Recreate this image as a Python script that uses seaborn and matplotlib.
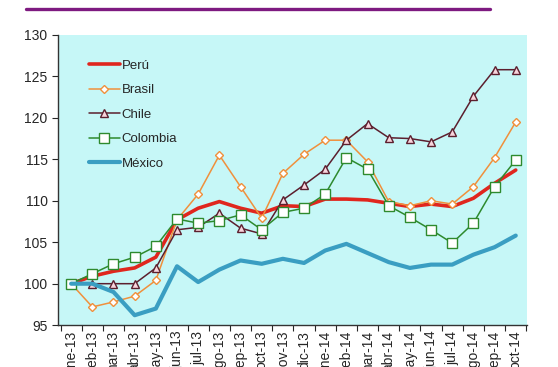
"""indices de tipo de cambio real: Peru vs vecinos"""

import seaborn as sns
import matplotlib.pyplot as plt
import matplotlib.lines as mlines
import numpy as np

months = ["ene-13", "feb-13", "mar-13", "abr-13", "may-13", "jun-13", "jul-13",
          "ago-13", "sep-13", "oct-13", "nov-13", "dic-13", "ene-14", "feb-14",
          "mar-14", "abr-14", "may-14", "jun-14", "jul-14", "ago-14", "sep-14",
          "oct-14"]

peru = [100.0, 100.9, 101.5, 101.9, 103.2, 107.7, 109.1, 109.9, 109.1, 108.5, 109.4,
        109.3, 110.2, 110.2, 110.1, 109.7, 109.3, 109.6, 109.3, 110.3, 112.1, 113.7]
brasil = [100.0, 97.2, 97.8, 98.5, 100.4, 107.7, 110.8, 115.5, 111.7, 107.9, 113.3,
          115.6, 117.3, 117.3, 114.7, 109.9, 109.4, 110.0, 109.6, 111.7, 115.2, 119.5]
chile = [100.0, 100.0, 100.0, 100.0, 101.9, 106.5, 106.8, 108.5, 106.7, 106.0, 110.1,
         111.9, 113.8, 117.3, 119.3, 117.6, 117.5, 117.1, 118.3, 122.6, 125.8, 125.8]
colombia = [100.0, 101.2, 102.4, 103.2, 104.5, 107.8, 107.3, 107.6, 108.3, 106.5, 108.6,
            109.1, 110.8, 115.2, 113.8, 109.4, 108.0, 106.5, 104.9, 107.3, 111.7, 114.9]
mexico = [100.0, 100.0, 99.0, 96.2, 97.0, 102.1, 100.2, 101.7, 102.8, 102.4, 103.0,
          102.5, 104.0, 104.8, 103.7, 102.6, 101.9, 102.3, 102.3, 103.5, 104.4, 105.8]

sns.set_style("white")
plt.rcParams["font.family"] = ["Liberation Sans", "DejaVu Sans"]

fig = plt.figure(figsize=(5.58, 3.67), dpi=100)
ax = fig.add_axes([0.104, 0.114, 0.84, 0.791])
ax.set_facecolor("#C6F7F7")

x = np.arange(len(months))

series = [
    ("Perú", peru, dict(color="#E0261E", linewidth=2.6)),
    ("Brasil", brasil, dict(color="#F0903C", linewidth=1.1, marker="D", markersize=4.5,
                            markerfacecolor="white", markeredgecolor="#F0903C",
                            markeredgewidth=1.0)),
    ("Chile", chile, dict(color="#5C1F2E", linewidth=1.1, marker="^", markersize=6.0,
                          markerfacecolor="#F8D4DC", markeredgecolor="#5C1F2E",
                          markeredgewidth=1.0)),
    ("Colombia", colombia, dict(color="#2E8A2E", linewidth=1.1, marker="s", markersize=6.5,
                                markerfacecolor="white", markeredgecolor="#2E8A2E",
                                markeredgewidth=1.0)),
    ("México", mexico, dict(color="#3A9EC2", linewidth=3.0)),
]

for name, vals, style in series:
    sns.lineplot(x=x, y=vals, ax=ax, label=name, **style)

ax.set_xlim(-0.62, 21.52)
ax.set_ylim(95, 130)
ax.set_yticks(np.arange(95, 131, 5))
ax.set_xticks(x)
ax.set_xticklabels(months, rotation=90, fontsize=10)
ax.set_xticks(np.arange(-0.5, 21.6, 1), minor=True)
ax.tick_params(axis="y", labelsize=10, direction="out", length=4, left=True, width=0.8)
ax.tick_params(axis="x", which="major", length=0, pad=4)
ax.tick_params(axis="x", which="minor", direction="out", length=4, bottom=True, width=0.8)

for side in ["top", "right"]:
    ax.spines[side].set_visible(False)
for side in ["left", "bottom"]:
    ax.spines[side].set_color("#333333")
    ax.spines[side].set_linewidth(1.0)

leg = ax.legend(loc="upper left", bbox_to_anchor=(0.04, 0.955), frameon=False,
                fontsize=9.5, handlelength=2.4, handletextpad=0.1, labelspacing=0.92)

# purple rule above the chart
fig.add_artist(mlines.Line2D([0.047, 0.878], [0.975, 0.975], color="#7E1A80",
                             linewidth=2.4, transform=fig.transFigure))

fig.savefig("out.png", dpi=100)
